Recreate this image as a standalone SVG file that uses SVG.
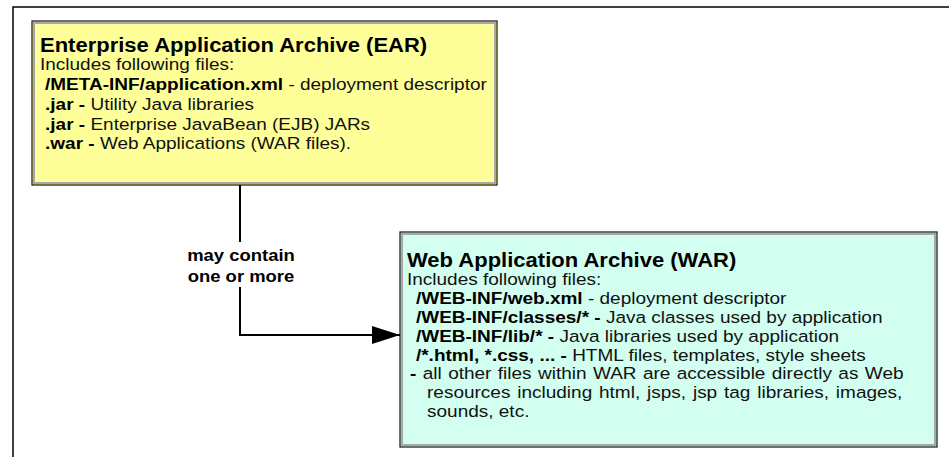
<svg xmlns="http://www.w3.org/2000/svg" width="949" height="457" viewBox="0 0 949 457">
<style>
text{font-family:"Liberation Sans",Arial,sans-serif;fill:#000}
.t{font-size:19.7px;font-weight:bold}
.b{font-size:17px;fill:#111}
.bd{font-weight:bold;fill:#000}
.lbl{font-size:16.5px;font-weight:bold;text-anchor:middle}
.frame{fill:none;stroke:#000;stroke-width:1.5}
.outer{stroke:#111;stroke-width:1.2}
.inner{fill:none;stroke:#a8a8a8;stroke-width:2}
.conn{fill:none;stroke:#000;stroke-width:2}
</style>
<defs>
<marker id="arr" markerWidth="28" markerHeight="18" refX="28" refY="9" orient="auto" markerUnits="userSpaceOnUse">
<path d="M0,0 L28,9 L0,18 Z" fill="#000"/>
</marker>
</defs>
<path class="frame" d="M13,457 V7 H949"/>
<g id="ear">
<rect class="outer" x="32" y="21" width="465" height="164" fill="#ffff99"/>
<rect class="inner" x="34" y="23" width="461" height="160"/>
<g transform="translate(40 0) scale(1.118 1)">
<text class="t" x="0" y="52">Enterprise Application Archive (EAR)</text>
<text class="b" x="0" y="70">Includes following files:</text>
<text class="b" x="4.5" y="90"><tspan class="bd">/META-INF/application.xml</tspan> - deployment descriptor</text>
<text class="b" x="4.5" y="110"><tspan class="bd">.jar - </tspan>Utility Java libraries</text>
<text class="b" x="4.5" y="130"><tspan class="bd">.jar - </tspan>Enterprise JavaBean (EJB) JARs</text>
<text class="b" x="4.5" y="149"><tspan class="bd">.war - </tspan>Web Applications (WAR files).</text>
</g>
</g>
<g id="war">
<rect class="outer" x="400" y="232" width="537" height="215" fill="#d2fff0"/>
<rect class="inner" x="402" y="234" width="533" height="211"/>
<g transform="translate(407 0) scale(1.118 1)">
<text class="t" x="0" y="267">Web Application Archive (WAR)</text>
<text class="b" x="0" y="285">Includes following files:</text>
<text class="b" x="8" y="304"><tspan class="bd">/WEB-INF/web.xml</tspan> - deployment descriptor</text>
<text class="b" x="8" y="323"><tspan class="bd">/WEB-INF/classes/* - </tspan>Java classes used by application</text>
<text class="b" x="8" y="342"><tspan class="bd">/WEB-INF/lib/* - </tspan>Java libraries used by application</text>
<text class="b" x="8" y="361"><tspan class="bd">/*.html, *.css, ... - </tspan> HTML files, templates, style sheets</text>
<text class="b" x="2.7" y="379" word-spacing="1"><tspan class="bd">-</tspan> all other files within WAR are accessible directly as Web</text>
<text class="b" x="17.9" y="398" word-spacing="1.4">resources including html, jsps, jsp tag libraries, images,</text>
<text class="b" x="17.9" y="417">sounds, etc.</text>
</g>
</g>
<g id="connectors">
<path class="conn" d="M240,185 V242"/>
<path class="conn" d="M240,287 V335 H400" marker-end="url(#arr)"/>
<g transform="translate(241 0) scale(1.118 1)">
<text class="lbl" x="0" y="261">may contain</text>
<text class="lbl" x="0" y="282">one or more</text>
</g>
</g>
</svg>
